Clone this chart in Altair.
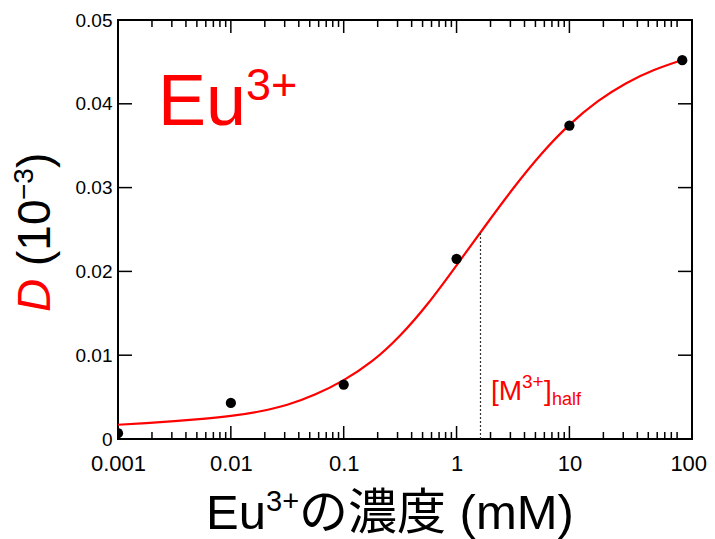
import altair as alt
import pandas as pd

# ---- data ----
pt_x = [0.001, 0.01, 0.1, 1, 10, 100]
pt_y = [0.0007, 0.0043, 0.0065, 0.0215, 0.0374, 0.0452]

curve_x = [0.001, 0.00178, 0.00316, 0.00562, 0.01, 0.0178, 0.0316, 0.0562, 0.1, 0.178,
           0.316, 0.562, 1, 1.78, 3.16, 5.62, 10, 17.8, 31.6, 56.2, 100]
curve_y = [0.00170, 0.00190, 0.00213, 0.00240, 0.00275, 0.00328, 0.00408, 0.00533,
           0.00703, 0.00928, 0.01235, 0.01623, 0.02073, 0.02536, 0.02986, 0.03398,
           0.03748, 0.04028, 0.04243, 0.04403, 0.04523]

half_x = [1.63, 1.63]
half_y = [0.0, 0.0247]

# the "100" label sits near the right frame in the reference
x_label_values = [0.001, 0.01, 0.1, 1, 10, 113]
y_label_values = [0, 0.01, 0.02, 0.03, 0.04, 0.05]
x_major_ticks = [0.01, 0.1, 1, 10]
x_minor_ticks = [k * 10.0 ** e for e in range(-3, 2) for k in range(2, 10)]
y_major_ticks = [0.01, 0.02, 0.03, 0.04]

W, H = 574, 419
FONT = "Liberation Sans, Noto Sans CJK JP, sans-serif"

xscale = alt.Scale(type="log", domain=[0.001, 122], nice=False)
yscale = alt.Scale(domain=[0, 0.05], nice=False, zero=False)

x_axis = alt.Axis(values=x_label_values, ticks=False, tickSize=0, domain=False, grid=False,
                  labelFontSize=22, labelFont=FONT, labelColor="black", labelPadding=14,
                  labelFlush=False,
                  labelExpr="datum.value > 50 ? '100' : format(datum.value, '~g')")
y_axis = alt.Axis(values=y_label_values, ticks=False, tickSize=0, domain=False, grid=False,
                  labelFontSize=19, labelFont=FONT, labelColor="black", labelPadding=6,
                  labelFlush=False, format=".2~f")


def X(field):
    return alt.X(field, scale=xscale, axis=x_axis, title=None)


def Y(field):
    return alt.Y(field, scale=yscale, axis=y_axis, title=None)


pts = pd.DataFrame({"x": pt_x, "y": pt_y})
crv = pd.DataFrame({"x": curve_x, "y": curve_y})
hlf = pd.DataFrame({"x": half_x, "y": half_y})
one = pd.DataFrame({"a": [0]})

curve = alt.Chart(crv).mark_line(color="#ff0000", strokeWidth=2.2, interpolate="natural", clip=True).encode(
    x=X("x:Q"), y=Y("y:Q"))

points = alt.Chart(pts).mark_circle(color="black", opacity=1, size=105, clip=True).encode(
    x=X("x:Q"), y=Y("y:Q"))

half = alt.Chart(hlf).mark_line(color="#333333", strokeWidth=1.2, strokeDash=[2, 2]).encode(
    x=X("x:Q"), y=Y("y:Q"))


def xticks(vals, length):
    d = pd.DataFrame({"v": vals})
    b = alt.Chart(d).mark_rule(color="black", strokeWidth=1.5).encode(
        x=X("v:Q"), y=alt.value(H), y2=alt.value(H - length))
    t = alt.Chart(d).mark_rule(color="black", strokeWidth=1.5).encode(
        x=X("v:Q"), y=alt.value(0), y2=alt.value(length))
    return [b, t]


def yticks(vals, length):
    d = pd.DataFrame({"v": vals})
    l = alt.Chart(d).mark_rule(color="black", strokeWidth=1.5).encode(
        y=Y("v:Q"), x=alt.value(0), x2=alt.value(length))
    r = alt.Chart(d).mark_rule(color="black", strokeWidth=1.5).encode(
        y=Y("v:Q"), x=alt.value(W), x2=alt.value(W - length))
    return [l, r]


def txt(text, x, y, size, color="black", style="normal", angle=0, font=FONT):
    return alt.Chart(one).mark_text(text=text, fontSize=size, color=color, fontStyle=style,
                                    angle=angle, align="left", baseline="alphabetic", font=font).encode(
        x=alt.value(x), y=alt.value(y))


texts = [
    # big Eu3+ annotation
    txt("Eu", 40, 105, 72, color="#ff0000"),
    txt("3+", 128, 80, 45, color="#ff0000"),
    # [M3+]half
    txt("[M", 373, 380, 28, color="#ff0000"),
    txt("3+", 404, 368, 19, color="#ff0000"),
    txt("]", 426, 380, 28, color="#ff0000"),
    txt("half", 434, 385, 18, color="#ff0000"),
    # x title
    txt("Eu", 88, 509, 49),
    txt("3+", 148, 491, 29),
    txt("の濃度 (mM)", 181, 509, 49),
    # y title (rotated)
    txt("D", -68, 292, 46, color="#ff0000", style="italic", angle=270),
    txt("(10", -68, 246, 46, angle=270),
    txt("−3", -85, 180, 28, angle=270),
    txt(")", -68, 148, 46, angle=270),
]

layers = [curve, half, points] + xticks(x_major_ticks, 13) + xticks(x_minor_ticks, 7) + yticks(y_major_ticks, 14) + texts

chart = alt.layer(*layers).properties(
    width=W, height=H,
    autosize=alt.AutoSizeParams(type="none"),
    padding={"left": 110, "top": 12, "right": 15, "bottom": 100},
).configure_view(stroke="black", strokeWidth=2)

chart.save("out.html", embed_options={"renderer": "svg", "actions": False})
